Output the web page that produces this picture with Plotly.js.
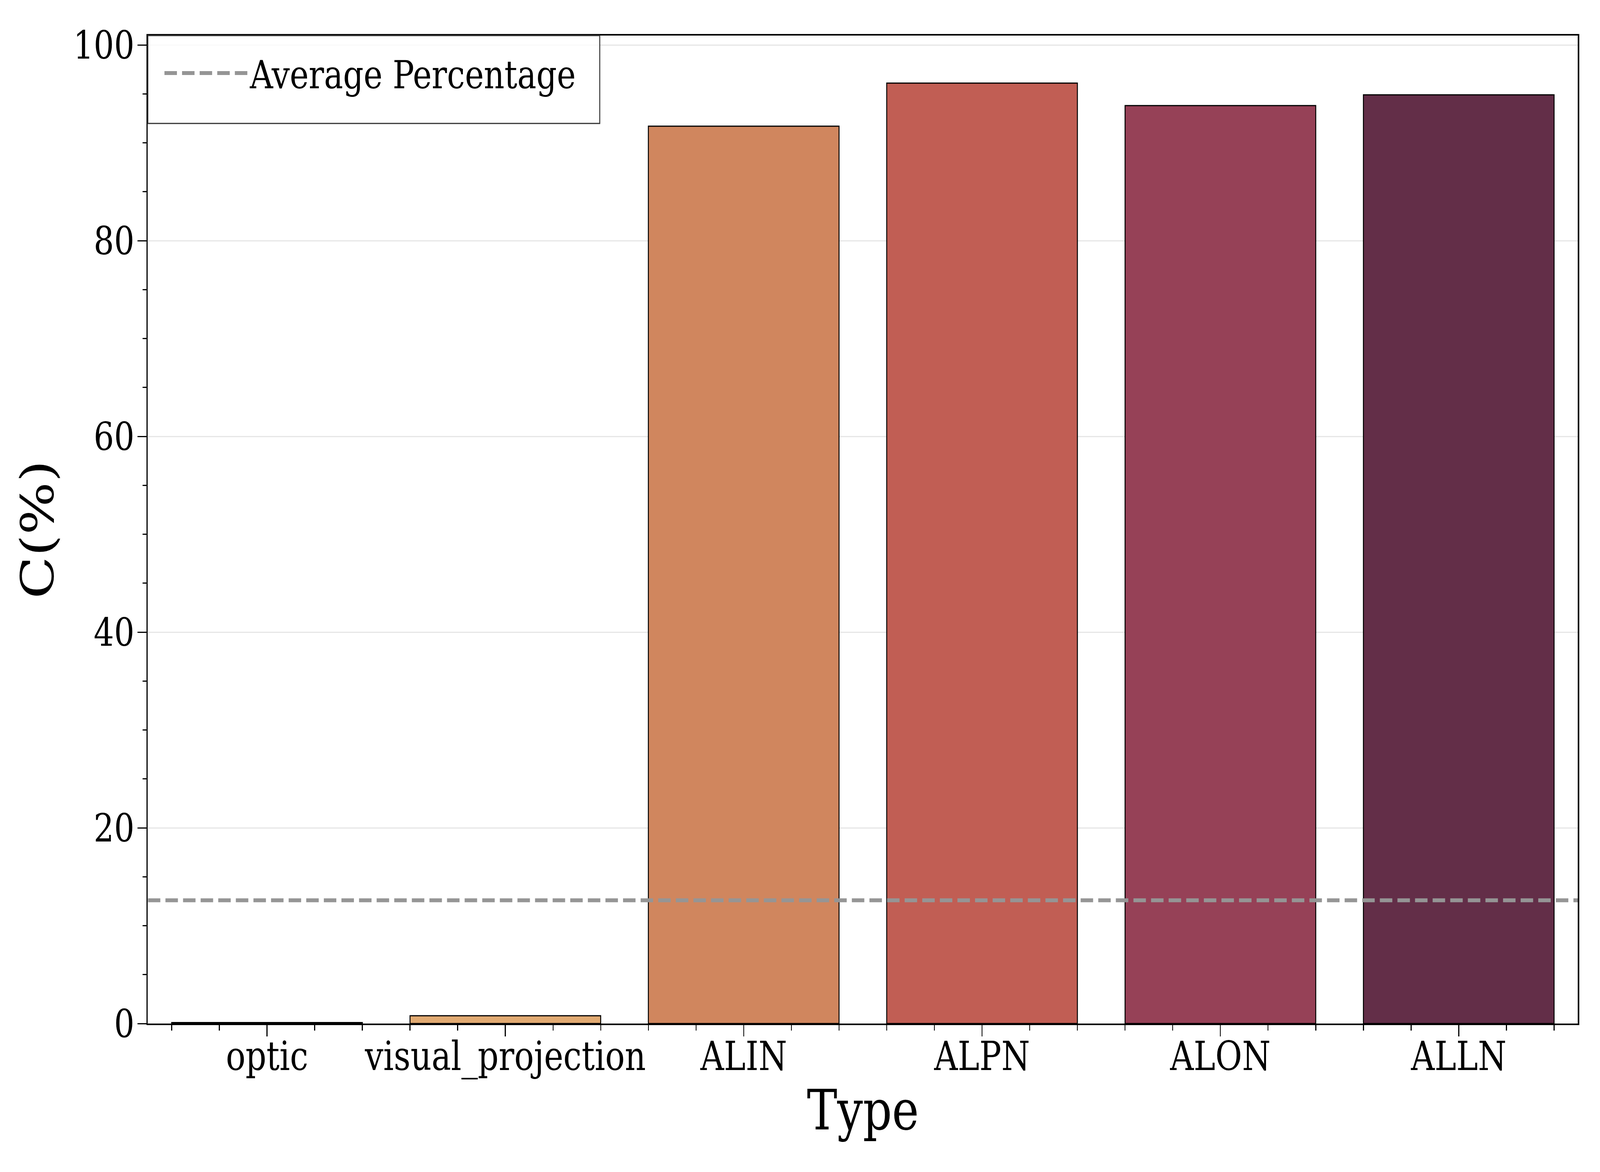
<!DOCTYPE html>
<html>
<head>
<meta charset="utf-8">
<script src="https://cdn.plot.ly/plotly-3.0.1.min.js"></script>
<style>
  html, body { margin: 0; padding: 0; background: #fff; overflow: hidden; }
  #chart { width: 5000px; height: 3000px; transform-origin: 0 0; }
</style>
</head>
<body>
<div id="chart"></div>
<script>
// values
var types = ["optic", "visual_projection", "ALIN", "ALPN", "ALON", "ALLN"];
var percentages = [0.1, 0.8, 91.7, 96.1, 93.8, 94.9];
var barColors = ["#EDC48C", "#E1AA72", "#D0865E", "#C15E54", "#964157", "#632E48"];
var averagePercentage = 12.6;

var positions = types.map(function (t, i) { return i; });

var bars = {
  type: "bar",
  x: positions,
  y: percentages,
  width: 0.8,
  marker: {
    color: barColors,
    line: { color: "#000", width: 3 }
  },
  showlegend: false,
  hoverinfo: "x+y"
};

var avgLine = {
  type: "scatter",
  mode: "lines",
  name: "Average Percentage",
  x: [-0.5, types.length - 0.5],
  y: [averagePercentage, averagePercentage],
  line: { color: "#959595", width: 10, dash: "39px,16px" }
};

var font = "DejaVu Serif, Liberation Serif, serif";

var layout = {
  width: 5000,
  height: 3000,
  margin: { l: 462, r: 69, t: 91, b: 380 },
  paper_bgcolor: "#fff",
  plot_bgcolor: "#fff",
  font: { family: font, color: "#000", size: 100 },
  xaxis: {
    type: "linear",
    range: [-0.5, types.length - 0.5],
    tickmode: "array",
    tickvals: positions,
    ticktext: types,
    ticks: "outside",
    ticklen: 29,
    tickwidth: 3,
    tickcolor: "#000",
    ticklabelstandoff: -36,
    tickfont: { family: font, size: 102, color: "#000" },
    minor: { tickmode: "linear", tick0: 0, dtick: 0.2, ticks: "outside", ticklen: 14, tickwidth: 3, tickcolor: "#000", showgrid: false },
    showgrid: false,
    zeroline: false,
    showline: true,
    linecolor: "#000",
    linewidth: 4,
    mirror: true,
    title: { text: "Type", font: { family: font, size: 142, color: "#000" }, standoff: 30 }
  },
  yaxis: {
    range: [0, 100.96],
    tickmode: "linear",
    tick0: 0,
    dtick: 20,
    ticks: "outside",
    ticklen: 28,
    tickwidth: 3,
    tickcolor: "#000",
    ticklabelstandoff: -10,
    tickfont: { family: font, size: 100, color: "#000" },
    minor: { tickmode: "linear", tick0: 0, dtick: 5, ticks: "outside", ticklen: 13, tickwidth: 3, tickcolor: "#000", showgrid: false },
    showgrid: true,
    gridcolor: "#e6e6e6",
    gridwidth: 3,
    zeroline: false,
    showline: true,
    linecolor: "#000",
    linewidth: 4,
    mirror: true,
    title: { text: "C(%)", font: { family: font, size: 142, color: "#000" }, standoff: 16 }
  },
  // legend frame (matplotlib style, semi-transparent white)
  shapes: [{
    type: "rect", xref: "paper", yref: "paper",
    x0: 0, x1: 0.316, y0: 0.911, y1: 1,
    fillcolor: "rgba(255,255,255,0.8)",
    line: { color: "#333", width: 3 },
    layer: "above"
  }],
  showlegend: true,
  legend: {
    x: 0.0105,
    y: 0.962,
    xanchor: "left",
    yanchor: "middle",
    bgcolor: "rgba(0,0,0,0)",
    borderwidth: 0,
    itemwidth: 262,
    font: { family: font, size: 100, color: "#000" }
  }
};

Plotly.newPlot("chart", [bars, avgLine], layout, { displayModeBar: false, staticPlot: true });

// the browser window may be narrower than the 5000x3000 canvas: fit it in
var sx = Math.min(1, window.innerWidth / 5000);
var sy = Math.min(1, window.innerHeight / 3000);
document.getElementById("chart").style.transform = "scale(" + sx + "," + sy + ")";
</script>
</body>
</html>
